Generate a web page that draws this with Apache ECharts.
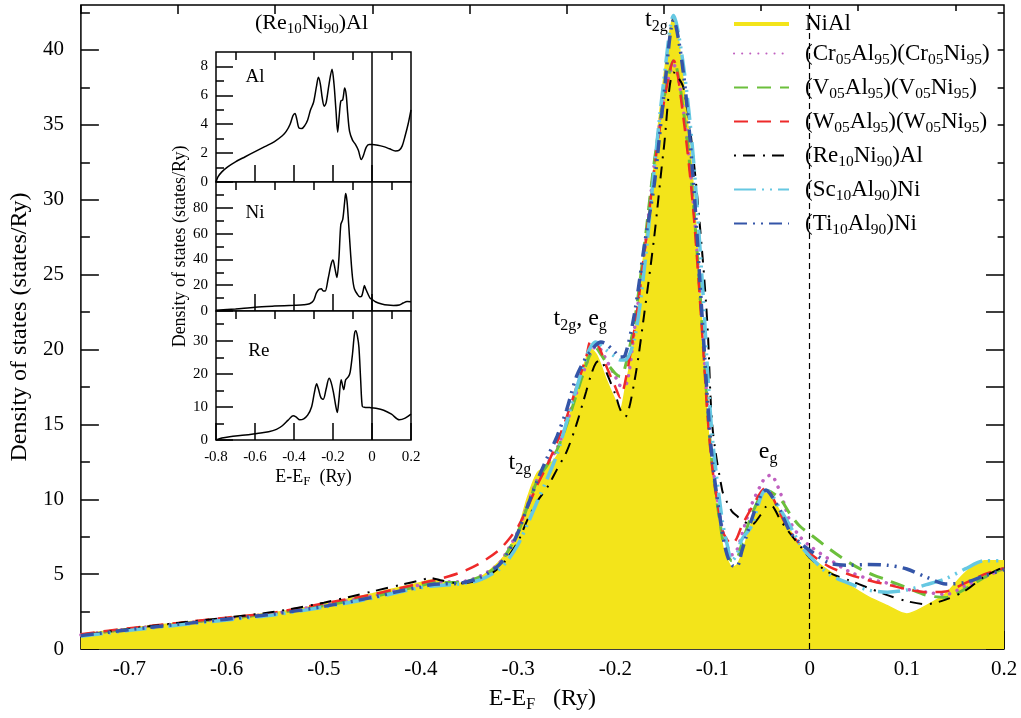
<!DOCTYPE html>
<html><head><meta charset="utf-8">
<script src="https://cdn.jsdelivr.net/npm/echarts@6/dist/echarts.min.js"></script>
<style>html,body{margin:0;padding:0;background:#fff}#c{width:1021px;height:718px}</style>
</head><body><div id="c"></div>
<script>
// ---------- DATA ----------
const energy = [-0.75,-0.70,-0.65,-0.60,-0.55,-0.50,-0.45,-0.42,-0.40,-0.39,-0.38,-0.36,-0.34,-0.32,-0.31,-0.30,-0.29,-0.28,-0.27,-0.26,-0.25,-0.24,-0.23,-0.225,-0.22,-0.215,-0.21,-0.20,-0.195,-0.19,-0.18,-0.17,-0.16,-0.15,-0.14,-0.13,-0.12,-0.11,-0.105,-0.10,-0.09,-0.085,-0.08,-0.075,-0.07,-0.06,-0.05,-0.045,-0.04,-0.03,-0.02,-0.01,0.00,0.02,0.04,0.06,0.08,0.10,0.12,0.14,0.16,0.18,0.20];
const dosNiAl = [1.0,1.4,1.75,2.1,2.45,3.0,3.7,4.15,4.45,4.6,4.5,4.4,4.75,5.8,6.6,8.0,10.2,11.8,12.2,12.9,14.8,17.2,19.4,20.0,19.7,19.0,18.1,16.6,16.0,17.3,21.0,26.7,32.3,38.2,42.3,37.8,31.0,20.5,15.0,11.5,7.0,6.0,5.5,5.6,6.3,8.4,10.1,10.4,10.2,9.1,7.9,6.9,6.2,5.2,4.3,3.5,2.9,2.35,2.9,3.7,5.1,5.9,5.9];
const dosCr = [0.95,1.35,1.7,2.05,2.4,2.95,3.55,4.0,4.3,4.45,4.5,4.5,4.85,5.7,6.7,7.9,9.7,11.4,12.4,13.4,15.1,17.1,19.0,19.8,20.2,20.0,19.4,18.2,17.6,17.6,21.5,26.5,32.3,36.8,39.0,36.0,30.0,21.0,16.0,12.4,8.0,6.9,6.3,6.6,7.6,9.6,11.0,11.5,11.6,10.4,8.5,7.5,6.9,6.0,5.2,4.7,4.4,4.0,3.8,3.65,4.2,4.8,5.4];
const dosV = [0.95,1.35,1.7,2.05,2.4,2.9,3.5,3.95,4.25,4.4,4.45,4.45,4.8,5.6,6.6,7.8,9.6,11.3,12.3,13.3,15.0,17.0,19.0,19.8,20.1,19.7,19.2,18.4,18.2,18.8,22.0,27.0,32.5,36.8,39.3,36.0,30.0,21.0,16.0,12.2,7.5,6.4,5.9,6.0,7.0,8.9,10.3,10.6,10.5,10.0,9.0,8.2,7.7,6.7,5.8,5.1,4.6,4.1,3.6,3.45,4.0,4.8,5.4];
const dosW = [1.0,1.4,1.75,2.1,2.45,3.05,3.65,4.1,4.4,4.55,4.7,5.1,5.7,6.6,7.3,8.2,9.5,11.0,12.3,13.8,15.5,17.5,19.5,20.6,20.5,19.9,19.0,17.5,16.8,17.8,21.5,26.5,32.0,36.5,39.3,35.5,29.5,20.5,15.5,12.0,8.0,7.3,7.0,7.4,8.2,9.4,10.5,10.8,10.4,9.0,7.8,7.0,6.4,5.5,5.0,4.6,4.3,4.0,3.8,3.85,4.4,5.0,5.4];
const dosRe = [0.9,1.35,1.75,2.1,2.5,3.1,3.85,4.3,4.6,4.75,4.6,4.4,4.6,5.4,6.2,7.2,8.7,9.9,10.8,12.0,13.2,15.0,17.2,18.3,19.1,19.3,18.6,17.0,16.0,15.5,18.0,22.5,27.5,33.5,38.5,37.5,33.0,26.0,21.4,14.8,10.6,9.8,9.2,8.9,8.6,8.3,9.0,9.5,9.6,8.6,7.7,6.9,6.1,5.1,4.6,4.1,3.6,3.2,3.0,3.3,3.9,4.85,5.5];
const dosSc = [0.85,1.25,1.6,1.95,2.3,2.8,3.4,3.85,4.1,4.2,4.25,4.35,4.6,5.3,6.0,7.0,8.4,9.9,11.4,13.0,15.2,17.4,19.5,20.2,20.5,20.3,20.0,19.5,19.3,19.3,20.8,25.5,32.0,38.0,42.3,39.0,33.0,24.0,18.5,14.0,8.6,7.0,5.9,6.3,7.3,8.2,10.2,10.6,10.4,9.3,8.2,7.0,6.2,5.0,4.4,3.95,3.8,3.95,4.3,4.7,5.35,5.9,5.9];
const dosTi = [0.9,1.3,1.65,2.0,2.35,2.85,3.45,3.9,4.15,4.3,4.35,4.4,4.75,5.6,6.5,7.8,9.6,11.3,12.8,14.2,16.0,18.2,19.5,19.9,20.3,20.5,20.4,19.8,19.5,19.6,22.5,27.0,31.0,37.0,42.0,38.5,31.5,21.5,16.5,12.5,7.8,6.3,5.6,5.5,6.5,8.6,10.3,10.6,10.3,9.2,7.8,7.1,6.6,5.75,5.6,5.65,5.6,5.35,4.8,4.35,4.45,4.9,5.3];

const seriesNames = ['NiAl','(Cr05Al95)(Cr05Ni95)','(V05Al95)(V05Ni95)','(W05Al95)(W05Ni95)','(Re10Ni90)Al','(Sc10Al90)Ni','(Ti10Al90)Ni'];

// inset (Re10Ni90)Al partial DOS: [E, DOS]
const insetAl = [[-0.80,0],[-0.79,0.35],[-0.77,0.7],[-0.74,1.05],[-0.70,1.4],[-0.65,1.75],[-0.60,2.1],[-0.55,2.45],[-0.50,2.8],[-0.46,3.2],[-0.44,3.5],[-0.42,4.0],[-0.405,4.6],[-0.395,4.75],[-0.385,4.3],[-0.375,3.75],[-0.36,3.7],[-0.345,3.9],[-0.33,4.3],[-0.315,5.0],[-0.30,5.5],[-0.285,6.6],[-0.275,7.25],[-0.265,6.8],[-0.255,5.8],[-0.245,5.25],[-0.235,5.5],[-0.22,6.8],[-0.205,7.8],[-0.195,6.8],[-0.185,5.0],[-0.176,3.45],[-0.168,4.6],[-0.16,5.6],[-0.15,5.7],[-0.14,6.5],[-0.132,6.0],[-0.125,4.8],[-0.115,3.5],[-0.10,2.9],[-0.085,2.6],[-0.07,2.2],[-0.055,1.55],[-0.045,1.8],[-0.03,2.4],[-0.015,2.6],[0.0,2.6],[0.03,2.55],[0.06,2.45],[0.09,2.3],[0.12,2.15],[0.14,2.2],[0.155,2.5],[0.17,3.2],[0.185,4.0],[0.2,5.0]];
const insetNi = [[-0.80,0.5],[-0.70,1.6],[-0.60,3.0],[-0.50,3.8],[-0.40,4.4],[-0.35,4.8],[-0.32,5.6],[-0.30,8],[-0.285,14],[-0.27,17],[-0.26,17.2],[-0.25,15.5],[-0.24,15.5],[-0.225,25],[-0.21,36],[-0.20,39.5],[-0.19,33],[-0.18,26],[-0.17,40],[-0.16,67],[-0.15,71],[-0.14,85],[-0.135,91],[-0.128,85],[-0.12,68],[-0.11,45],[-0.10,26],[-0.09,17],[-0.075,13],[-0.062,11],[-0.053,11.5],[-0.045,16],[-0.039,19.8],[-0.032,17],[-0.02,13],[-0.01,10],[0.0,9],[0.02,7],[0.05,5.5],[0.08,4.6],[0.11,4.3],[0.14,4.7],[0.16,6.2],[0.18,7.3],[0.2,7.2]];
const insetRe = [[-0.80,0],[-0.77,0.6],[-0.73,1.0],[-0.65,1.5],[-0.59,2.0],[-0.53,2.5],[-0.49,3.2],[-0.46,4.3],[-0.43,6.0],[-0.405,7.3],[-0.39,7.0],[-0.37,6.1],[-0.35,6.4],[-0.33,7.5],[-0.31,10.0],[-0.295,14.5],[-0.284,17.0],[-0.275,15.5],[-0.262,12.8],[-0.25,12.3],[-0.235,15.5],[-0.22,18.7],[-0.21,17.5],[-0.198,14.5],[-0.185,10],[-0.178,8.3],[-0.17,12],[-0.158,18.2],[-0.145,15.2],[-0.135,18.2],[-0.12,19.2],[-0.112,20.5],[-0.10,26],[-0.09,32],[-0.083,33],[-0.075,31.5],[-0.067,28],[-0.058,18],[-0.05,10.2],[-0.04,9.9],[-0.01,9.8],[0.02,9.6],[0.06,9.0],[0.10,7.8],[0.14,6.1],[0.17,6.6],[0.2,7.8]];

// tick values
const mainXMajor = [-0.7,-0.6,-0.5,-0.4,-0.3,-0.2,-0.1,0,0.1,0.2];
const mainXMinor = [-0.75,-0.65,-0.55,-0.45,-0.35,-0.25,-0.15,-0.05,0.05,0.15];
const mainYMajor = [0,5,10,15,20,25,30,35,40];
const mainYMinor = [2.5,7.5,12.5,17.5,22.5,27.5,32.5,37.5,42.5];
const insetXLabels = [-0.8,-0.6,-0.4,-0.2,0,0.2];
const insetXMinor = [-0.7,-0.5,-0.3,-0.1,0.1];
const alYMajor = [0,2,4,6,8], alYMinor = [1,3,5,7];
const niYMajor = [0,20,40,60,80], niYMinor = [10,30,50,70,90];
const reYMajor = [0,10,20,30], reYMinor = [5,15,25,35];

// ---------- STYLE ----------
const FONT = 'Liberation Serif, Times New Roman, serif';
const colors = ['#f3e41a','#c060c0','#6cbf3c','#ee2a2a','#000000','#66c8e2','#3455a8'];
const dashes = ['solid',[0.1,8],[14,9],[14,9],[2,7,12,8],[22,6,2,6,2,6],[13,6,2,6,2,6]];
const widths = [1.5,3.5,3,2.5,2,3.5,3.5];

function subRich(size, drop, extra) {
  return { s: { fontFamily: FONT, fontSize: size, lineHeight: size, padding: [drop*2 + (extra||0), 0, extra||0, 0], color: '#000' } };
}
const fmtSub = n => n.replace(/(\d+)/g, '{s|$1}');
const fmtNum = v => String(Math.round(v*10)/10);

const TK = { color: '#000', width: 1.5 };

function xAx(grid, min, max, vals, len, labels, extra) {
  return Object.assign({
    gridIndex: grid, type: 'value', min: min, max: max,
    axisLine: { show: false, onZero: false },
    axisTick: { show: true, inside: true, length: len, customValues: vals, lineStyle: TK },
    axisLabel: labels ? { show: true, customValues: vals, formatter: fmtNum, color: '#000', fontFamily: FONT, fontSize: labels, margin: 10 } : { show: false },
    splitLine: { show: false }
  }, extra || {});
}
function yAx(grid, min, max, vals, len, labels, extra) {
  return Object.assign({
    gridIndex: grid, type: 'value', min: min, max: max, position: 'left',
    axisLine: { show: false, onZero: false },
    axisTick: { show: true, inside: true, length: len, customValues: vals, lineStyle: TK },
    axisLabel: labels ? { show: true, customValues: vals, formatter: fmtNum, color: '#000', fontFamily: FONT, fontSize: labels, margin: labels > 16 ? 17 : 8 } : { show: false },
    splitLine: { show: false }
  }, extra || {});
}

const insetGrids = [
  { left: 216, top: 52, width: 195, height: 130 },
  { left: 216, top: 182, width: 195, height: 129 },
  { left: 216, top: 311, width: 195, height: 129 }
];

const option = {
  animation: false,
  backgroundColor: '#fff',
  grid: [
    { left: 78, top: 5, width: 926, height: 647, show: true, borderColor: '#000', borderWidth: 1.5, backgroundColor: 'transparent' }
  ].concat(insetGrids.map(g => Object.assign({ show: true, borderColor: '#000', borderWidth: 1.5, backgroundColor: '#fff' }, g))),
  xAxis: [
    xAx(0, -0.75, 0.2, mainXMajor, 18, 21, {
      name: 'E-E{s|F}   (Ry)', nameLocation: 'middle', nameGap: 28,
      nameTextStyle: { color: '#000', fontFamily: FONT, fontSize: 24, lineHeight: 24, rich: subRich(16, 6) }
    }),
    xAx(0, -0.75, 0.2, mainXMinor, 9, 0),
    xAx(1, -0.8, 0.2, [-0.6,-0.4,-0.2,0], 17, 0),
    xAx(1, -0.8, 0.2, insetXMinor, 8, 0),
    xAx(2, -0.8, 0.2, [-0.6,-0.4,-0.2,0], 17, 0),
    xAx(2, -0.8, 0.2, insetXMinor, 8, 0),
    xAx(3, -0.8, 0.2, insetXLabels, 17, 15, {
      name: 'E-E{s|F}  (Ry)', nameLocation: 'middle', nameGap: 21,
      nameTextStyle: { color: '#000', fontFamily: FONT, fontSize: 18, lineHeight: 18, rich: subRich(13, 4.5) }
    }),
    xAx(3, -0.8, 0.2, insetXMinor, 8, 0)
  ],
  yAxis: [
    yAx(0, 0, 43, mainYMajor, 18, 21, {
      name: 'Density of states (states/Ry)', nameLocation: 'middle', nameGap: 36,
      nameTextStyle: { color: '#000', fontFamily: FONT, fontSize: 24 }
    }),
    yAx(0, 0, 43, mainYMinor, 9, 0),
    yAx(0, 0, 43, mainYMinor.concat(mainYMajor), 18, 0, { position: 'right' }),
    yAx(1, 0, 9, alYMajor, 17, 15),
    yAx(1, 0, 9, alYMinor, 8, 0),
    yAx(2, 0, 100, niYMajor, 17, 15, {
      name: 'Density of states (states/Ry)', nameLocation: 'middle', nameGap: 27,
      nameTextStyle: { color: '#000', fontFamily: FONT, fontSize: 18 }
    }),
    yAx(2, 0, 100, niYMinor, 8, 0),
    yAx(3, 0, 39, reYMajor, 17, 15),
    yAx(3, 0, 39, reYMinor, 8, 0)
  ],
  legend: {
    orient: 'vertical', left: 718, top: 11, padding: [1, 8, 4, 14],
    backgroundColor: '#fff', itemWidth: 55, itemHeight: 14, itemGap: 1,
    itemStyle: { opacity: 0 },
    data: seriesNames.map((n, i) => i === 0 ? { name: n, lineStyle: { width: 4 } } : { name: n }),
    textStyle: { color: '#000', fontFamily: FONT, fontSize: 23, lineHeight: 24, padding: [0, 0, 0, 11], rich: { s: { fontFamily: FONT, fontSize: 15.5, lineHeight: 15.5, padding: [15, 0, 2, 0], color: '#000' } } },
    formatter: fmtSub
  },
  graphic: [
    {
      type: 'text', left: 255, top: 10, z: 10,
      style: { text: '(Re{s|10}Ni{s|90})Al', fontFamily: FONT, fontSize: 22, fill: '#000', rich: subRich(15, 6) }
    }
  ],
  series: []
};

const allDos = [dosNiAl, dosCr, dosV, dosW, dosRe, dosSc, dosTi];
allDos.forEach((arr, i) => {
  const s = {
    name: seriesNames[i], type: 'line', xAxisIndex: 0, yAxisIndex: 0,
    data: energy.map((e, k) => [e, arr[k]]),
    symbol: 'none', smooth: 0.3, z: 2 + i,
    lineStyle: { color: colors[i], width: widths[i], type: dashes[i], cap: i === 1 ? 'round' : 'butt' },
    itemStyle: { color: colors[i] }
  };
  if (i === 0) {
    s.areaStyle = { color: colors[0], opacity: 1 };
    s.z = 1;
    s.markLine = {
      silent: true, symbol: ['none', 'none'], animation: false,
      lineStyle: { color: '#000', type: [6, 4], width: 1.2 },
      label: { show: false }, data: [{ xAxis: 0 }]
    };
    const ann = { fontFamily: FONT, fontSize: 24, lineHeight: 24, color: '#000', rich: subRich(16, 7) };
    s.markPoint = {
      symbol: 'circle', symbolSize: 0, silent: true,
      label: Object.assign({ show: true, position: 'inside' }, ann),
      data: [
        { coord: [-0.1577, 42.0], label: { formatter: 't{s|2g}' } },
        { coord: [-0.2362, 22.06], label: { formatter: 't{s|2g}, e{s|g}' } },
        { coord: [-0.2982, 12.43], label: { formatter: 't{s|2g}' } },
        { coord: [-0.0428, 13.16], label: { formatter: 'e{s|g}' } }
      ]
    };
  }
  option.series.push(s);
});

const insetSets = [['Al', insetAl], ['Ni', insetNi], ['Re', insetRe]];
const insetLabelPos = [[-0.6, 7.3], [-0.6, 76], [-0.58, 27]];
insetSets.forEach(([nm, pts], j) => {
  option.series.push({
    name: 'inset ' + nm, type: 'line', xAxisIndex: 2 + 2*j, yAxisIndex: 3 + 2*j,
    data: pts, symbol: 'none', smooth: 0.3, z: 20,
    lineStyle: { color: '#000', width: 1.5 },
    markLine: {
      silent: true, symbol: ['none', 'none'], animation: false,
      lineStyle: { color: '#000', type: 'solid', width: 1.5 },
      label: { show: false }, data: [{ xAxis: 0 }]
    },
    markPoint: {
      symbol: 'circle', symbolSize: 0, silent: true,
      label: { show: true, position: 'inside', fontFamily: FONT, fontSize: 19, color: '#000', formatter: nm },
      data: [{ coord: insetLabelPos[j] }]
    }
  });
});

const chart = echarts.init(document.getElementById('c'), null, { renderer: 'canvas' });
chart.setOption(option);
</script>
</body></html>
